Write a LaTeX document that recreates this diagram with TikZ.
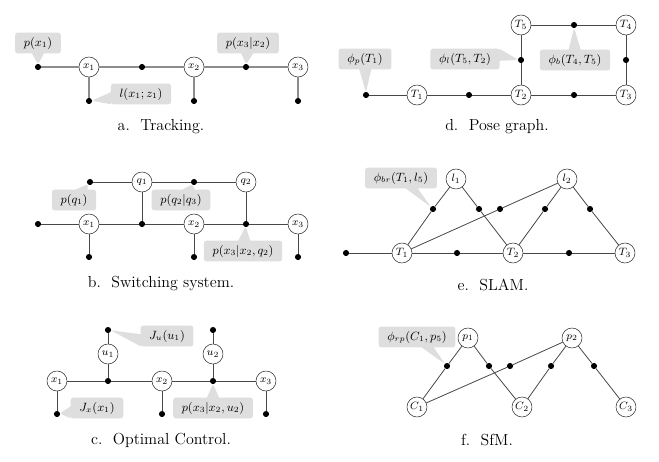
\documentclass[tikz,border=0pt]{standalone}
\usetikzlibrary{shapes.callouts}
\begin{document}
\begin{tikzpicture}
    [x=0.75pt, y=-0.75pt,
    var/.style={circle, draw=black!80, fill=white, minimum size=15pt, inner sep=0pt, font=\footnotesize},
    fac/.style={circle, fill=black, minimum size=4.6pt, inner sep=0pt},
    edge/.style={draw=black!72, line width=0.6pt},
    lightedge/.style={draw=black!45, line width=0.9pt},
    lbl/.style={rectangle callout, fill=black!13, rounded corners=2pt, inner xsep=6.5pt,
      minimum height=14pt, font=\small, callout pointer width=9pt, callout pointer shorten=2pt},
    caption/.style={font=\large}]
    \useasboundingbox (0,0) rectangle (659,461);

    % a. tracking
    \node[var] (a-x1) at (89,67) {$x_1$};
    \node[var] (a-x2) at (194,67) {$x_2$};
    \node[var] (a-x3) at (298,67) {$x_3$};
    \node[fac] (a-p0) at (38,67) {};
    \node[fac] (a-f12) at (142,67) {};
    \node[fac] (a-f23) at (246,67) {};
    \node[fac] (a-l1) at (89,101) {};
    \node[fac] (a-l2) at (194,101) {};
    \node[fac] (a-l3) at (298,101) {};
    \draw[lightedge] (a-p0) -- (a-x1) -- (a-f12) -- (a-x2) -- (a-f23) -- (a-x3);
    \draw[lightedge] (a-x1) -- (a-l1) (a-x2) -- (a-l2) (a-x3) -- (a-l3);
    \node[lbl, callout absolute pointer={(a-p0)}] at (38,43) {$p(x_1)$};
    \node[lbl, callout absolute pointer={(a-l1)}] at (141,94) {$l(x_1;z_1)$};
    \node[lbl, callout absolute pointer={(a-f23)}] at (248,43) {$p(x_3|x_2)$};
    \node[caption] (a-cap) at (161,127) {a.\ \ Tracking.};

    % b. switching system
    \node[var] (b-x1) at (89,224) {$x_1$};
    \node[var] (b-x2) at (194,224) {$x_2$};
    \node[var] (b-x3) at (298,224) {$x_3$};
    \node[var] (b-q1) at (142,182) {$q_1$};
    \node[var] (b-q2) at (246,182) {$q_2$};
    \node[fac] (b-p0) at (38,224) {};
    \node[fac] (b-f12) at (142,224) {};
    \node[fac] (b-f23) at (246,224) {};
    \node[fac] (b-pq) at (90,182) {};
    \node[fac] (b-fq) at (194,182) {};
    \node[fac] (b-l1) at (89,257) {};
    \node[fac] (b-l2) at (194,257) {};
    \node[fac] (b-l3) at (298,257) {};
    \draw[edge] (b-p0) -- (b-x1) -- (b-f12) -- (b-x2) -- (b-f23) -- (b-x3);
    \draw[edge] (b-pq) -- (b-q1) -- (b-fq) -- (b-q2);
    \draw[edge] (b-q1) -- (b-f12) (b-q2) -- (b-f23);
    \draw[edge] (b-x1) -- (b-l1) (b-x2) -- (b-l2) (b-x3) -- (b-l3);
    \node[lbl, callout absolute pointer={(b-pq)}] at (74,200) {$p(q_1)$};
    \node[lbl, callout absolute pointer={(b-fq)}] at (181,200) {$p(q_2|q_3)$};
    \node[lbl, callout absolute pointer={(b-f23)}] at (243,251) {$p(x_3|x_2,q_2)$};
    \node[caption] (b-cap) at (161,283) {b.\ \ Switching system.};

    % c. optimal control
    \node[var] (c-x1) at (57,381) {$x_1$};
    \node[var] (c-x2) at (162,381) {$x_2$};
    \node[var] (c-x3) at (266,381) {$x_3$};
    \node[var] (c-u1) at (108,354) {$u_1$};
    \node[var] (c-u2) at (213,354) {$u_2$};
    \node[fac] (c-f12) at (108,381) {};
    \node[fac] (c-f23) at (213,381) {};
    \node[fac] (c-ju1) at (108,330) {};
    \node[fac] (c-ju2) at (213,330) {};
    \node[fac] (c-jx1) at (57,414) {};
    \node[fac] (c-jx2) at (162,414) {};
    \node[fac] (c-jx3) at (266,414) {};
    \draw[edge] (c-x1) -- (c-f12) -- (c-x2) -- (c-f23) -- (c-x3);
    \draw[edge] (c-ju1) -- (c-u1) -- (c-f12) (c-ju2) -- (c-u2) -- (c-f23);
    \draw[edge] (c-x1) -- (c-jx1) (c-x2) -- (c-jx2) (c-x3) -- (c-jx3);
    \node[lbl, callout absolute pointer={(c-ju1)}] at (167,336) {$J_u(u_1)$};
    \node[lbl, callout absolute pointer={(c-jx1)}] at (97,408) {$J_x(x_1)$};
    \node[lbl, callout absolute pointer={(c-f23)}] at (213,408) {$p(x_3|x_2,u_2)$};
    \node[caption] (c-cap) at (161,440) {c.\ \ Optimal Control.};

    % d. pose graph
    \node[var] (d-T1) at (417,95) {$T_1$};
    \node[var] (d-T2) at (521,95) {$T_2$};
    \node[var] (d-T3) at (626,95) {$T_3$};
    \node[var] (d-T4) at (626,25) {$T_4$};
    \node[var] (d-T5) at (521,25) {$T_5$};
    \node[fac] (d-p) at (366,95) {};
    \node[fac] (d-f12) at (469,95) {};
    \node[fac] (d-f23) at (574,95) {};
    \node[fac] (d-f34) at (626,60) {};
    \node[fac] (d-f45) at (574,25) {};
    \node[fac] (d-f25) at (521,60) {};
    \draw[edge] (d-p) -- (d-T1) -- (d-f12) -- (d-T2) -- (d-f23) -- (d-T3);
    \draw[edge] (d-T3) -- (d-f34) -- (d-T4) -- (d-f45) -- (d-T5) -- (d-f25) -- (d-T2);
    \node[lbl, callout absolute pointer={(d-p)}] at (365,59) {$\phi_p(T_1)$};
    \node[lbl, callout absolute pointer={(d-f25)}] at (465,59) {$\phi_l(T_5,T_2)$};
    \node[lbl, callout absolute pointer={(d-f45)}] at (575,60) {$\phi_b(T_4,T_5)$};
    \node[caption] (d-cap) at (497,127) {d.\ \ Pose graph.};

    % e. slam
    \node[var] (e-T1) at (402,253) {$T_1$};
    \node[var] (e-T2) at (513,253) {$T_2$};
    \node[var] (e-T3) at (625,253) {$T_3$};
    \node[var] (e-l1) at (456,179) {$l_1$};
    \node[var] (e-l2) at (567,179) {$l_2$};
    \node[fac] (e-p0) at (346,253) {};
    \node[fac] (e-f12) at (457,253) {};
    \node[fac] (e-f23) at (569,253) {};
    \node[fac] (e-a) at (433,209) {};
    \node[fac] (e-b) at (479,209) {};
    \node[fac] (e-c) at (500,209) {};
    \node[fac] (e-d) at (545,209) {};
    \node[fac] (e-e) at (590,209) {};
    \draw[edge] (e-p0) -- (e-T1) -- (e-f12) -- (e-T2) -- (e-f23) -- (e-T3);
    \draw[edge] (e-T1) -- (e-a) -- (e-l1) -- (e-b) -- (e-T2);
    \draw[edge] (e-T1) -- (e-c) -- (e-l2) (e-T2) -- (e-d) -- (e-l2) -- (e-e) -- (e-T3);
    \node[lbl, callout absolute pointer={(e-a)}] at (401,178) {$\phi_{br}(T_1,l_5)$};
    \node[caption] (e-cap) at (493,285) {e.\ \ SLAM.};

    % f. sfm
    \node[var] (f-C1) at (417,407) {$C_1$};
    \node[var] (f-C2) at (522,407) {$C_2$};
    \node[var] (f-C3) at (626,407) {$C_3$};
    \node[var] (f-p1) at (468,338) {$p_1$};
    \node[var] (f-p2) at (572,338) {$p_2$};
    \node[fac] (f-a) at (447,366) {};
    \node[fac] (f-b) at (489,366) {};
    \node[fac] (f-c) at (510,366) {};
    \node[fac] (f-d) at (551,366) {};
    \node[fac] (f-e) at (594,366) {};
    \draw[edge] (f-C1) -- (f-a) -- (f-p1) -- (f-b) -- (f-C2);
    \draw[edge] (f-C1) -- (f-c) -- (f-p2) (f-C2) -- (f-d) -- (f-p2) -- (f-e) -- (f-C3);
    \node[lbl, callout absolute pointer={(f-a)}] at (417,337) {$\phi_{rp}(C_1,p_5)$};
    \node[caption] (f-cap) at (487,440) {f.\ \ SfM.};
\end{tikzpicture}
\end{document}
